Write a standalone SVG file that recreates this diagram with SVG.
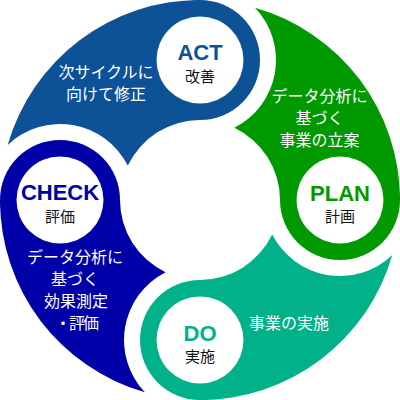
<svg xmlns="http://www.w3.org/2000/svg" width="400" height="400" viewBox="0 0 400 400">
<style>
.hole{fill:#fff}
.en{font-family:"Liberation Sans",Arial,sans-serif;font-weight:bold;font-size:22px;text-anchor:middle}
.jp{font-family:"Noto Sans CJK JP",sans-serif;font-size:15px;text-anchor:middle;fill:#111}
.desc{font-family:"Noto Sans CJK JP",sans-serif;font-size:16px;text-anchor:middle;fill:#fff}
.act{fill:#0D5197}
.plan{fill:#009900}
.do{fill:#00B189}
.check{fill:#0000A8}
</style>
<rect width="400" height="400" fill="#fff"/>
<g id="connectors"/>
<g id="act">
<path class="act" d="M7.7,144.9 A200,200 0 0 1 200,0 L200,120 A80,80 0 0 0 127.8,165.6 A76,76 0 0 0 7.7,144.9 Z"/>
<circle class="act" cx="200" cy="60" r="60"/>
<circle class="hole" cx="200" cy="60" r="43.5"/>
<text class="en act" x="200" y="59.5">ACT</text>
<text class="jp" x="200" y="82">改善</text>
<text class="desc"><tspan x="106" y="77.5">次サイクルに</tspan><tspan x="106" y="99.5">向けて修正</tspan></text>
</g>
<g id="plan">
<path class="plan" d="M255.1,7.7 A200,200 0 0 1 400,200 L280,200 A80,80 0 0 0 234.4,127.8 A76,76 0 0 0 255.1,7.7 Z"/>
<circle class="plan" cx="340" cy="200" r="60"/>
<circle class="hole" cx="340" cy="200" r="43.5"/>
<text class="en plan" x="340" y="200.5">PLAN</text>
<text class="jp" x="340" y="222">計画</text>
<text class="desc"><tspan x="319.5" y="102">データ分析に</tspan><tspan x="319.5" y="124">基づく</tspan><tspan x="319.5" y="146">事業の立案</tspan></text>
</g>
<g id="do">
<path class="do" d="M392.3,255.1 A200,200 0 0 1 200,400 L200,280 A80,80 0 0 0 272.2,234.4 A76,76 0 0 0 392.3,255.1 Z"/>
<circle class="do" cx="200" cy="340" r="60"/>
<circle class="hole" cx="200" cy="340" r="43.5"/>
<text class="en do" x="200" y="340.5">DO</text>
<text class="jp" x="200" y="362">実施</text>
<text class="desc" x="289" y="328.5">事業の実施</text>
</g>
<g id="check">
<path class="check" d="M144.9,392.3 A200,200 0 0 1 0,200 L120,200 A80,80 0 0 0 165.6,272.2 A76,76 0 0 0 144.9,392.3 Z"/>
<circle class="check" cx="60" cy="200" r="60"/>
<circle class="hole" cx="60" cy="200" r="43.5"/>
<text class="en check" x="60" y="199.5">CHECK</text>
<text class="jp" x="60" y="222">評価</text>
<text class="desc"><tspan x="75" y="263">データ分析に</tspan><tspan x="75" y="285">基づく</tspan><tspan x="76" y="307">効果測定</tspan><tspan x="76" y="329" letter-spacing="-2">・評価</tspan></text>
</g>
</svg>
